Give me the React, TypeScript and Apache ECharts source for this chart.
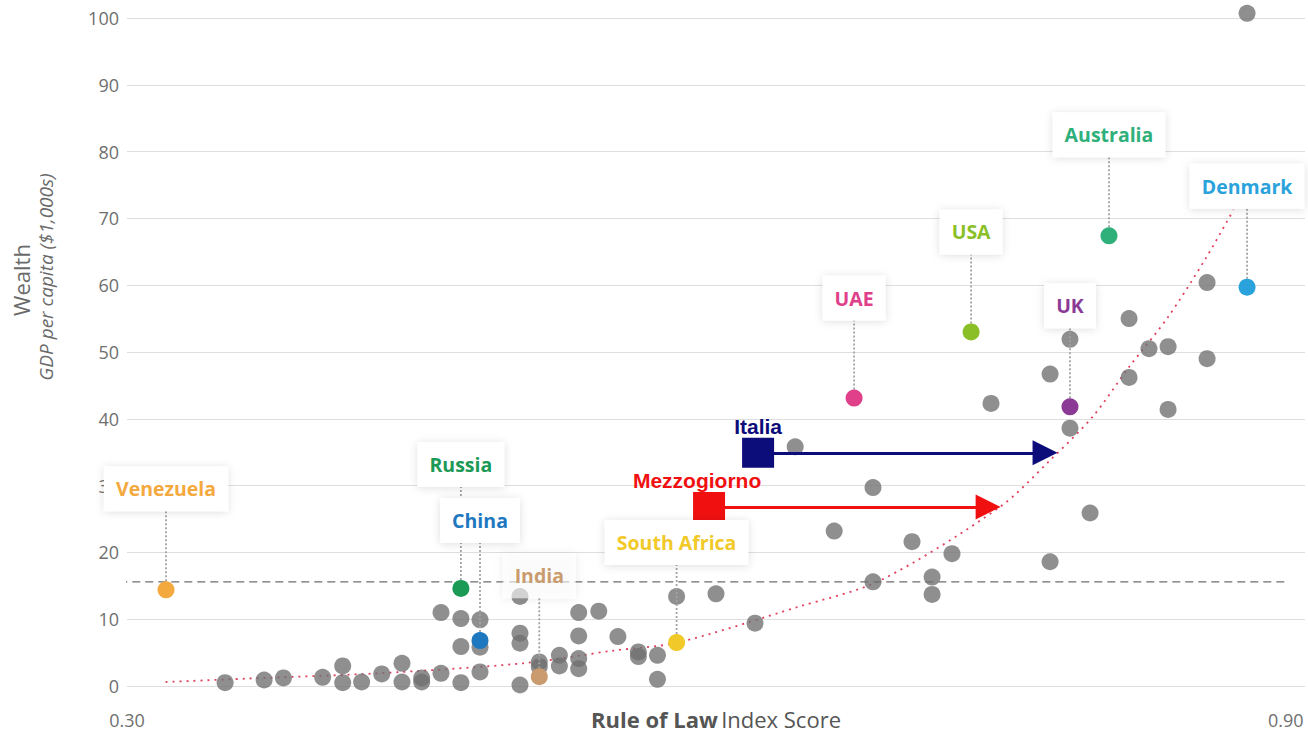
import React, { useEffect, useRef } from "react";
import * as echarts from "echarts";

// ---- data ----
const grayX = [
  0.3508, 0.371, 0.381, 0.4013, 0.4117, 0.4117, 0.4215, 0.4319, 0.4424, 0.4424,
  0.4526, 0.4526, 0.4626, 0.4626, 0.4729, 0.4729, 0.4729, 0.4828, 0.4828, 0.4828,
  0.5035, 0.5035, 0.5035, 0.5035, 0.5135, 0.5135, 0.5239, 0.5239, 0.5339, 0.5339,
  0.5339, 0.5339, 0.5443, 0.5542, 0.5648, 0.5648, 0.5747, 0.5747, 0.5846, 0.605,
  0.6252, 0.646, 0.6662, 0.6863, 0.6863, 0.7065, 0.7169, 0.7169, 0.7272, 0.7474,
  0.778, 0.778, 0.7883, 0.7883, 0.7987, 0.8189, 0.8189, 0.8292, 0.8391, 0.8391,
  0.8593, 0.8593, 0.88,
];
const grayY = [
  0.5, 0.9, 1.2, 1.3, 3.0, 0.5, 0.6, 1.8, 3.4, 0.6,
  0.6, 1.2, 1.9, 11.0, 10.1, 5.9, 0.5, 9.9, 5.8, 2.1,
  13.4, 7.9, 6.4, 0.15, 3.6, 2.9, 4.6, 3.0, 11.0, 7.5,
  4.1, 2.6, 11.2, 7.4, 5.1, 4.4, 4.6, 1.0, 13.4, 13.8,
  9.4, 35.8, 23.2, 29.7, 15.6, 21.6, 16.3, 13.7, 19.8, 42.3,
  46.7, 18.6, 51.9, 38.6, 25.9, 55.0, 46.2, 50.5, 50.8, 41.4,
  60.4, 49.0, 100.7,
];

const countries = ["Venezuela", "Russia", "China", "India", "South Africa", "UAE", "USA", "UK", "Australia", "Denmark"];
const countryX = [0.3202, 0.4729, 0.4828, 0.5135, 0.5846, 0.6765, 0.7371, 0.7883, 0.8085, 0.88];
const countryY = [14.4, 14.6, 6.8, 1.4, 6.5, 43.1, 53.0, 41.8, 67.4, 59.7];

const trendX = [0.32, 0.37, 0.43, 0.505, 0.552, 0.585, 0.647, 0.69, 0.752, 0.778, 0.8, 0.819, 0.839, 0.859, 0.873];
const trendY = [0.6, 1.2, 1.9, 3.4, 5.3, 6.5, 11.8, 15.8, 26.8, 33.8, 40.3, 47.8, 55.2, 64.2, 71.3];

const refLineX = [0.296, 0.9];
const refLineY = 15.6;

const italiaName = "Italia";
const italiaFrom = [0.6268, 34.9];
const italiaTo = [0.7754, 34.9];
const mezzName = "Mezzogiorno";
const mezzFrom = [0.6014, 26.8];
const mezzTo = [0.7459, 26.8];

const xTickLabels = ["0.30", "0.90"];
const xTitleBold = "Rule of Law";
const xTitleRegular = "Index Score";
const yTitle = "Wealth";
const ySubtitle = "GDP per capita ($1,000s)";
const yMin = 0;
const yMax = 100;
const yStep = 10;

// ---- styles ----
const countryColors = ["#f4a93e", "#1b9a55", "#1e78bf", "#c99b6e", "#f1c928", "#e0408a", "#8abf28", "#8b3a96", "#2fb07a", "#2aa2dc"];
const labelRise = [101, 124, 120, 101, 100, 100, 100, 101, 101, 101];
const labelBg = ["#fff", "#fff", "#fff", "rgba(255,255,255,0.6)", "#fff", "#fff", "#fff", "#fff", "#fff", "#fff"];
const FONT = "'Open Sans', 'DejaVu Sans', sans-serif";
const NAVY = "#0c0c7a";
const RED = "#f01010";

export default function App() {
  const ref = useRef<HTMLDivElement>(null);
  useEffect(() => {
    if (!ref.current) return;
    const chart = echarts.init(ref.current, null, { renderer: "svg" });

    const grayData = grayX.map((x, i) => [x, grayY[i]]);
    const trendData = trendX.map((x, i) => [x, trendY[i]]);
    const countryData = countries.map((name, i) => ({
      name,
      value: [countryX[i], countryY[i]],
      itemStyle: { color: countryColors[i] },
      label: { color: countryColors[i], backgroundColor: labelBg[i] },
    }));

    const option: any = {
      animation: false,
      backgroundColor: "#ffffff",
      grid: { left: 127, right: 3, top: 18, bottom: 46, containLabel: false, outerBoundsMode: "none" },
      xAxis: {
        type: "value",
        min: 0.3,
        max: 0.91,
        interval: 0.3,
        axisLine: { show: false },
        axisTick: { show: false },
        splitLine: { show: false },
        axisLabel: {
          margin: 25,
          fontSize: 18,
          color: "#6f6f6f",
          fontFamily: FONT,
          formatter: (v: number) => {
            const s = v.toFixed(2);
            return xTickLabels.indexOf(s) >= 0 && Math.abs(v - parseFloat(s)) < 1e-6 ? s : "";
          },
        },
      },
      yAxis: {
        type: "value",
        min: yMin,
        max: yMax,
        interval: yStep,
        axisLine: { show: false },
        axisTick: { show: false },
        splitLine: { show: true, lineStyle: { color: "#dedede", width: 1 } },
        axisLabel: { margin: 8, fontSize: 18, color: "#6f6f6f", fontFamily: FONT },
      },
      graphic: [
        {
          type: "text",
          x: 716,
          y: 719,
          style: {
            text: "{b|" + xTitleBold + "} {r|" + xTitleRegular + "}",
            align: "center",
            verticalAlign: "middle",
            rich: {
              b: { fontSize: 22, fontWeight: "bold", fill: "#555555", fontFamily: FONT },
              r: { fontSize: 22, fill: "#555555", fontFamily: FONT },
            },
          },
        },
        {
          type: "text",
          x: 21,
          y: 280,
          rotation: Math.PI / 2,
          style: { text: yTitle, font: "22px 'Open Sans', sans-serif", fill: "#6a6a6a", align: "center", verticalAlign: "middle" },
        },
        {
          type: "text",
          x: 46,
          y: 277,
          rotation: Math.PI / 2,
          style: { text: ySubtitle, font: "italic 19px 'Open Sans', sans-serif", fill: "#6a6a6a", align: "center", verticalAlign: "middle" },
        },
      ],
      series: [
        {
          type: "line",
          data: trendData,
          smooth: 0.3,
          symbol: "none",
          silent: true,
          lineStyle: { color: "#e0405e", width: 1.8, type: [2, 5] },
          z: 1,
        },
        {
          type: "line",
          data: refLineX.map((x) => [x, refLineY]),
          symbol: "none",
          silent: true,
          clip: false,
          lineStyle: { color: "#6e6e6e", width: 1.3, type: [8, 5] },
          z: 1,
        },
        {
          type: "scatter",
          data: grayData,
          symbolSize: 17,
          clip: false,
          itemStyle: { color: "rgba(112,112,112,0.78)", opacity: 1 },
          z: 2,
        },
        {
          type: "lines",
          coordinateSystem: "cartesian2d",
          symbol: ["none", "triangle"],
          symbolSize: 25,
          data: [
            { coords: [italiaFrom, italiaTo], lineStyle: { color: NAVY } },
            { coords: [mezzFrom, mezzTo], lineStyle: { color: RED } },
          ],
          lineStyle: { width: 3, opacity: 1, curveness: 0 },
          z: 3,
        },
        {
          type: "scatter",
          symbol: "rect",
          symbolSize: [32, 30],
          z: 4,
          itemStyle: { opacity: 1 },
          data: [
            {
              name: italiaName,
              value: italiaFrom,
              itemStyle: { color: NAVY, opacity: 1 },
              label: { color: NAVY },
            },
            {
              name: mezzName,
              value: mezzFrom,
              itemStyle: { color: RED, opacity: 1 },
              label: { color: RED, offset: [-12, 0] },
            },
          ],
          label: {
            show: true,
            position: "top",
            distance: 1,
            formatter: "{b}",
            fontSize: 21,
            fontWeight: "bold",
            fontFamily: "'Liberation Sans', Arial, sans-serif",
          },
        },
        {
          type: "scatter",
          data: countryData,
          symbolSize: 17,
          clip: false,
          z: 5,
          itemStyle: { opacity: 1 },
          label: {
            show: true,
            position: "inside",
            formatter: "{b}",
            fontSize: 19.5,
            fontWeight: "bold",
            fontFamily: FONT,
            padding: [12.5, 12],
            shadowBlur: 8,
            shadowColor: "rgba(0,0,0,0.13)",
            shadowOffsetY: 1,
          },
          labelLayout: (params: any) => ({ dy: -labelRise[params.dataIndex] }),
          labelLine: {
            show: true,
            lineStyle: { color: "#a3a3a3", width: 1.8, type: [2, 2] },
          },
        },
      ],
    };

    chart.setOption(option);
    return () => chart.dispose();
  }, []);

  return <div ref={ref} style={{ position: "fixed", left: 0, top: 0, width: 1308, height: 732 }} />;
}
